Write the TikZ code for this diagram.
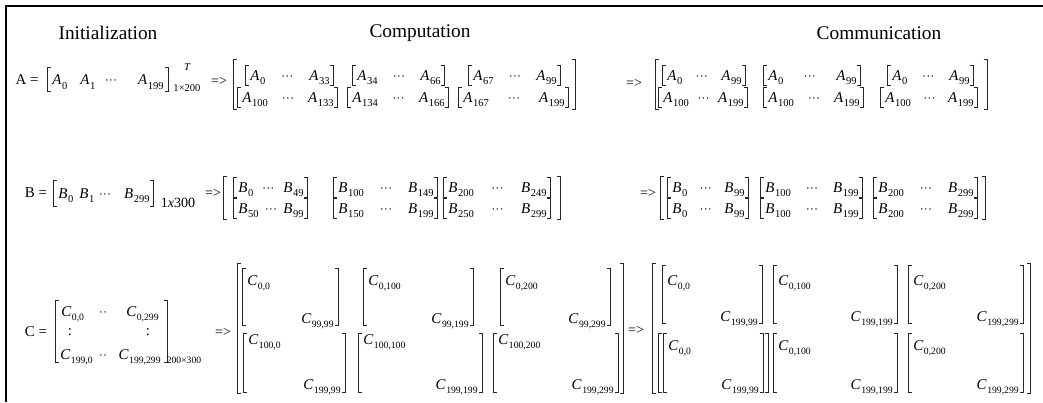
\documentclass[tikz,border=0pt]{standalone}
\usepackage{fontspec}
\setmainfont{Liberation Serif}

% entries with a subscript
\newcommand{\mv}[2]{\textit{#1}\kern0.3pt\raisebox{-2.3pt}{\fontsize{6}{6}\selectfont #2}}
\newcommand{\mc}[1]{\textit{C}\kern0.3pt\raisebox{-2.3pt}{\fontsize{5.5}{6}\selectfont #1}}
% brackets: x, top, bottom
\newcommand{\lbr}[3]{\draw[brk] ({#1+3.5},#2) -- (#1,#2) -- (#1,#3) -- ({#1+3.5},#3);}
\newcommand{\rbr}[3]{\draw[brk] ({#1-3.5},#2) -- (#1,#2) -- (#1,#3) -- ({#1-3.5},#3);}
% row block: name, left, right, y, first, last
\newcommand{\vblk}[6]{\lbr{#2}{#4-10}{#4+10}\rbr{#3}{#4-10}{#4+10}
  \node[ent, anchor=base west] (#1a) at ({#2+5},{#4+5}) {#5};
  \node[ent, anchor=base east] (#1b) at ({#3-3},{#4+5}) {#6};
  \path (#1a.base east) -- node[elps, pos=0.5, anchor=base] (#1d) {···} (#1b.base west);}
% C block: name, left, right, top, bottom, y first, y last, first, last
\newcommand{\cblk}[9]{\lbr{#2}{#4}{#5}\rbr{#3}{#4}{#5}
  \node[ent, anchor=base west] (#1a) at ({#2+5},#6) {#8};
  \node[ent, anchor=base east] (#1b) at ({#3-4},#7) {#9};}

\begin{document}
\begin{tikzpicture}[
    x=0.02cm, y=-0.02cm,
    brk/.style={line width=0.45pt, black!85},
    frm/.style={line width=1.1pt},
    ent/.style={inner sep=0pt, font=\fontsize{8.5}{10}\selectfont},
    elps/.style={inner sep=0pt, font=\fontsize{7}{7}\selectfont},
    ttl/.style={inner sep=0pt, font=\fontsize{11}{13}\selectfont},
    lbl/.style={inner sep=0pt, font=\fontsize{8.5}{10}\selectfont},
    arr/.style={inner sep=0pt, font=\fontsize{8}{10}\selectfont},
    dim/.style={inner sep=0pt, font=\fontsize{6}{7}\selectfont}
  ]
  \useasboundingbox (0,0) rectangle (1043,402);
  \draw[frm] (6,402) |- (1043,6);

  % Headings
  \node[ttl] (initTitle) at (108,33) {Initialization};
  \node[ttl] (compTitle) at (420,33) {Computation};
  \node[ttl] (commTitle) at (879,33) {Communication};

  % A
  \node[lbl] (aEq) at (27,80) {A =};
  \lbr{47}{67}{91}\rbr{168}{67}{91}
  \node[ent, anchor=base west] (aV0) at (52,85) {\mv{A}{0}};
  \node[ent, anchor=base west] (aV1) at (80,85) {\mv{A}{1}};
  \node[elps, anchor=base] (aVd) at (111,85) {···};
  \node[ent, anchor=base east] (aVn) at (164,85) {\mv{A}{199}};
  \node[dim, font=\fontsize{6}{7}\selectfont\itshape] (aT) at (187,67) {T};
  \node[dim] (aDim) at (187,88) {1×200};
  \node[arr] (aTo1) at (219,81) {=>};
  \lbr{233}{59}{109}\rbr{575}{59}{109}
  \vblk{acu1}{245}{333}{75}{\mv{A}{0}}{\mv{A}{33}}
  \vblk{acu2}{352}{444}{75}{\mv{A}{34}}{\mv{A}{66}}
  \vblk{acu3}{468}{560}{75}{\mv{A}{67}}{\mv{A}{99}}
  \vblk{acl1}{237}{337}{97}{\mv{A}{100}}{\mv{A}{133}}
  \vblk{acl2}{347}{448}{97}{\mv{A}{134}}{\mv{A}{166}}
  \vblk{acl3}{458}{568}{97}{\mv{A}{167}}{\mv{A}{199}}
  \node[arr] (aTo2) at (634,83) {=>};
  \lbr{655}{59}{109}\rbr{987}{59}{109}
  \vblk{amu1}{662}{745}{75}{\mv{A}{0}}{\mv{A}{99}}
  \vblk{amu2}{763}{860}{75}{\mv{A}{0}}{\mv{A}{99}}
  \vblk{amu3}{887}{973}{75}{\mv{A}{0}}{\mv{A}{99}}
  \vblk{aml1}{658}{747}{97}{\mv{A}{100}}{\mv{A}{199}}
  \vblk{aml2}{763}{863}{97}{\mv{A}{100}}{\mv{A}{199}}
  \vblk{aml3}{880}{977}{97}{\mv{A}{100}}{\mv{A}{199}}

  % B
  \node[lbl] (bEq) at (36,193) {B =};
  \lbr{53}{180}{206}\rbr{153}{180}{206}
  \node[ent, anchor=base west] (bV0) at (58,198) {\mv{B}{0}};
  \node[ent, anchor=base west] (bV1) at (79,198) {\mv{B}{1}};
  \node[elps, anchor=base] (bVd) at (105,198) {···};
  \node[ent, anchor=base east] (bVn) at (150,198) {\mv{B}{299}};
  \node[dim, font=\fontsize{8}{9}\selectfont] (bDim) at (178,203) {1\textit{x}300};
  \node[arr] (bTo1) at (213,193) {=>};
  \lbr{223}{176}{219}\rbr{560}{176}{219}
  \vblk{bcu1}{233}{307}{187}{\mv{B}{0}}{\mv{B}{49}}
  \vblk{bcu2}{333}{437}{187}{\mv{B}{100}}{\mv{B}{149}}
  \vblk{bcu3}{443}{550}{187}{\mv{B}{200}}{\mv{B}{249}}
  \vblk{bcl1}{233}{307}{208}{\mv{B}{50}}{\mv{B}{99}}
  \vblk{bcl2}{333}{437}{208}{\mv{B}{150}}{\mv{B}{199}}
  \vblk{bcl3}{443}{550}{208}{\mv{B}{250}}{\mv{B}{299}}
  \node[arr] (bTo2) at (648,193) {=>};
  \lbr{660}{176}{219}\rbr{985}{176}{219}
  \vblk{bmu1}{667}{748}{187}{\mv{B}{0}}{\mv{B}{99}}
  \vblk{bmu2}{760}{862}{187}{\mv{B}{100}}{\mv{B}{199}}
  \vblk{bmu3}{873}{977}{187}{\mv{B}{200}}{\mv{B}{299}}
  \vblk{bml1}{667}{748}{208}{\mv{B}{0}}{\mv{B}{99}}
  \vblk{bml2}{760}{862}{208}{\mv{B}{100}}{\mv{B}{199}}
  \vblk{bml3}{873}{977}{208}{\mv{B}{200}}{\mv{B}{299}}

  % C
  \node[lbl] (cEq) at (36,332) {C =};
  \lbr{55}{300}{362}\rbr{167}{300}{362}
  \node[ent, anchor=base west] (cM00) at (61,316) {\mc{0,0}};
  \node[elps, anchor=base] (cMd1) at (103,316) {··};
  \node[ent, anchor=base east] (cM01) at (159,316) {\mc{0,299}};
  \node[lbl] (cMv1) at (70,332) {:};
  \node[lbl] (cMv2) at (148,332) {:};
  \node[ent, anchor=base west] (cM10) at (60,359) {\mc{199,0}};
  \node[elps, anchor=base] (cMd2) at (103,359) {··};
  \node[ent, anchor=base east] (cM11) at (161,359) {\mc{199,299}};
  \node[dim, font=\fontsize{5.5}{6}\selectfont] (cDim) at (184,360) {200×300};
  \node[arr] (cTo1) at (223,332) {=>};
  \lbr{237}{263}{393}\rbr{623}{263}{393}
  \cblk{ccu1}{242}{338}{268}{325}{285}{323}{\mc{0,0}}{\mc{99,99}}
  \cblk{ccu2}{363}{473}{268}{325}{285}{323}{\mc{0,100}}{\mc{99,199}}
  \cblk{ccu3}{500}{610}{268}{325}{285}{323}{\mc{0,200}}{\mc{99,299}}
  \cblk{ccl1}{243}{345}{333}{392}{344}{389}{\mc{100,0}}{\mc{199,99}}
  \cblk{ccl2}{358}{482}{333}{392}{344}{389}{\mc{100,100}}{\mc{199,199}}
  \cblk{ccl3}{493}{618}{333}{392}{344}{389}{\mc{100,200}}{\mc{199,299}}
  \node[arr] (cTo2) at (636,330) {=>};
  \lbr{652}{263}{393}\rbr{1030}{263}{393}
  \cblk{cmu1}{662}{762}{265}{323}{285}{321}{\mc{0,0}}{\mc{199,99}}
  \cblk{cmu2}{773}{897}{265}{323}{285}{321}{\mc{0,100}}{\mc{199,199}}
  \cblk{cmu3}{908}{1023}{265}{323}{285}{321}{\mc{0,200}}{\mc{199,299}}
  \lbr{658}{333}{392}\rbr{768}{333}{392}
  \cblk{cml1}{663}{763}{333}{392}{350}{389}{\mc{0,0}}{\mc{199,99}}
  \cblk{cml2}{773}{897}{333}{392}{350}{389}{\mc{0,100}}{\mc{199,199}}
  \cblk{cml3}{908}{1023}{333}{392}{350}{389}{\mc{0,200}}{\mc{199,299}}
\end{tikzpicture}
\end{document}
